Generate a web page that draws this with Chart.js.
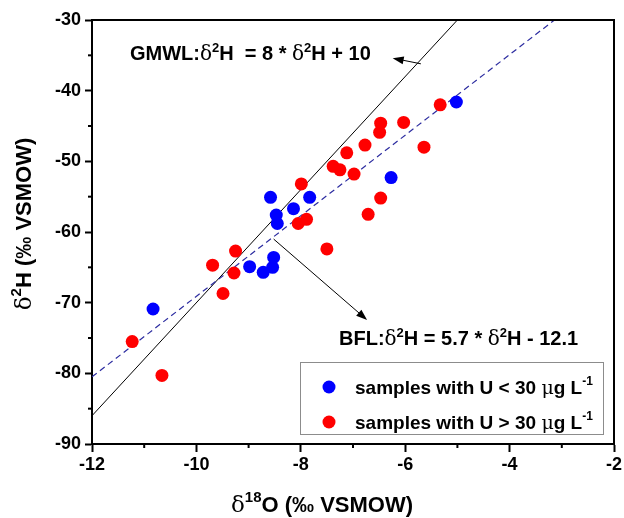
<!DOCTYPE html>
<html>
<head>
<meta charset="utf-8">
<script src="https://cdn.jsdelivr.net/npm/chart.js@4"></script>
<style>
  html, body { margin: 0; padding: 0; background: #fff; }
  #wrap { width: 624px; height: 518px; position: relative; }
</style>
</head>
<body>
<div id="wrap"><canvas id="chart"></canvas></div>
<script>
// samples with U < 30 ug/L
const blueX = [-8.58, -8.47, -8.45, -8.14, -7.83, -8.52, -8.54, -8.72, -8.98, -10.83, -5.02, -6.27];
const blueY = [-55.1, -57.6, -58.8, -56.7, -55.1, -63.6, -65.0, -65.7, -64.9, -70.9, -41.6, -52.3];
// samples with U > 30 ug/L
const redX = [-7.99, -8.05, -7.89, -9.25, -7.50, -7.38, -7.25, -7.12, -6.98, -6.77, -6.71, -5.33,
              -6.47, -6.49, -6.03, -5.64, -6.47, -9.69, -9.28, -9.49, -11.23, -10.66];
const redY = [-53.2, -58.8, -58.2, -62.7, -62.4, -50.7, -51.2, -48.8, -51.8, -47.7, -57.5, -42.0,
              -44.6, -45.9, -44.5, -48.0, -55.2, -64.7, -65.8, -68.7, -75.5, -80.3];
// GMWL and best fit line end points
const gmwlX = [-12, -5];
const gmwlY = [-86, -30];
const bflX = [-12, -3.14];
const bflY = [-80.5, -30];

const xTicks = [-12, -10, -8, -6, -4, -2];
const yTicks = [-90, -80, -70, -60, -50, -40, -30];

const SANS = '"Liberation Sans", Arial, sans-serif';
const SERIF = '"DejaVu Serif", "Liberation Serif", serif';

const pts = (xs, ys) => xs.map((x, i) => ({ x, y: ys[i] }));

function richWidth(ctx, parts) {
  let w = 0;
  parts.forEach(p => { ctx.font = p.f; w += ctx.measureText(p.t).width; });
  return w;
}
function drawRich(ctx, parts, x, y, center) {
  let cx = center ? x - richWidth(ctx, parts) / 2 : x;
  ctx.textAlign = 'left';
  ctx.textBaseline = 'alphabetic';
  parts.forEach(p => {
    ctx.font = p.f;
    ctx.fillText(p.t, cx, y + (p.dy || 0));
    cx += ctx.measureText(p.t).width;
  });
}
function arrow(ctx, x1, y1, x2, y2) {
  const ang = Math.atan2(y2 - y1, x2 - x1);
  ctx.beginPath();
  ctx.moveTo(x1, y1);
  ctx.lineTo(x2 - 6 * Math.cos(ang), y2 - 6 * Math.sin(ang));
  ctx.stroke();
  ctx.beginPath();
  ctx.moveTo(x2, y2);
  ctx.lineTo(x2 - 11 * Math.cos(ang) + 4 * Math.sin(ang), y2 - 11 * Math.sin(ang) - 4 * Math.cos(ang));
  ctx.lineTo(x2 - 11 * Math.cos(ang) - 4 * Math.sin(ang), y2 - 11 * Math.sin(ang) + 4 * Math.cos(ang));
  ctx.closePath();
  ctx.fill();
}

const big = 'bold 20px ' + SANS;
const sup = 'bold 13px ' + SANS;
const dlt = '20px ' + SERIF;
const lgBig = 'bold 19px ' + SANS;
const lgSup = 'bold 12px ' + SANS;
const lgDlt = '19px ' + SERIF;

const decorations = {
  id: 'decorations',
  afterDraw(chart) {
    const { ctx, chartArea: a, scales: { x, y } } = chart;
    ctx.save();
    ctx.strokeStyle = '#000';
    ctx.fillStyle = '#000';

    // frame top / right
    ctx.lineWidth = 2;
    ctx.beginPath();
    ctx.moveTo(a.left, a.top); ctx.lineTo(a.right, a.top); ctx.lineTo(a.right, a.bottom);
    ctx.stroke();

    // minor ticks
    x.ticks.filter(t => !xTicks.includes(t.value)).forEach(t => {
      const px = x.getPixelForValue(t.value);
      ctx.beginPath(); ctx.moveTo(px, a.bottom); ctx.lineTo(px, a.bottom + 4); ctx.stroke();
    });
    y.ticks.filter(t => !yTicks.includes(t.value)).forEach(t => {
      const py = y.getPixelForValue(t.value);
      ctx.beginPath(); ctx.moveTo(a.left, py); ctx.lineTo(a.left - 4, py); ctx.stroke();
    });

    // arrows
    ctx.lineWidth = 1;
    arrow(ctx, x.getPixelForValue(-5.70), y.getPixelForValue(-36.2),
               x.getPixelForValue(-6.24), y.getPixelForValue(-35.4));
    arrow(ctx, x.getPixelForValue(-8.52), y.getPixelForValue(-61.0),
               x.getPixelForValue(-6.73), y.getPixelForValue(-72.45));

    // line labels
    drawRich(ctx, [
      { t: 'GMWL:', f: big }, { t: 'δ', f: dlt }, { t: '2', f: sup, dy: -8 },
      { t: 'H  = 8 * ', f: big }, { t: 'δ', f: dlt }, { t: '2', f: sup, dy: -8 },
      { t: 'H + 10', f: big }
    ], 130, 60, false);
    drawRich(ctx, [
      { t: 'BFL:', f: big }, { t: 'δ', f: dlt }, { t: '2', f: sup, dy: -8 },
      { t: 'H = 5.7 * ', f: big }, { t: 'δ', f: dlt }, { t: '2', f: sup, dy: -8 },
      { t: 'H - 12.1', f: big }
    ], 339, 345, false);

    // legend
    ctx.lineWidth = 1;
    ctx.strokeStyle = '#8c8c8c';
    ctx.fillStyle = '#fff';
    ctx.fillRect(300.5, 362.5, 303, 72);
    ctx.strokeRect(300.5, 362.5, 303, 72);
    [['#0000ff', '<', 387], ['#ff0000', '>', 422]].forEach(([c, s, ly]) => {
      ctx.fillStyle = c;
      ctx.beginPath(); ctx.arc(329, ly, 6.5, 0, Math.PI * 2); ctx.fill();
      ctx.fillStyle = '#000';
      drawRich(ctx, [
        { t: 'samples with U ' + s + ' 30 ', f: lgBig }, { t: 'μ', f: lgDlt },
        { t: 'g L', f: lgBig }, { t: '-1', f: lgSup, dy: -9 }
      ], 355, ly + 7, false);
    });

    // axis titles
    const tb = 'bold 22px ' + SANS, ts = 'bold 15px ' + SANS, td = '23px ' + SERIF;
    ctx.fillStyle = '#000';
    drawRich(ctx, [
      { t: 'δ', f: td }, { t: '18', f: ts, dy: -10 }, { t: 'O (‰ VSMOW)', f: tb }
    ], 322, 512, true);
    ctx.translate(31, 224);
    ctx.rotate(-Math.PI / 2);
    drawRich(ctx, [
      { t: 'δ', f: td }, { t: '2', f: ts, dy: -10 }, { t: 'H (‰ VSMOW)', f: tb }
    ], 0, 0, true);
    ctx.restore();
  }
};

const tickFont = { family: SANS, weight: 'bold', size: 18 };

new Chart(document.getElementById('chart'), {
  type: 'scatter',
  data: {
    datasets: [
      { label: 'samples with U < 30 μg L-1', data: pts(blueX, blueY),
        backgroundColor: '#0000ff', borderWidth: 0, pointRadius: 6.5 },
      { label: 'samples with U > 30 μg L-1', data: pts(redX, redY),
        backgroundColor: '#ff0000', borderWidth: 0, pointRadius: 6.5 },
      { label: 'BFL', data: pts(bflX, bflY), showLine: true, pointRadius: 0,
        borderColor: '#2c2ca0', borderWidth: 1.2, borderDash: [6, 4] },
      { label: 'GMWL', data: pts(gmwlX, gmwlY), showLine: true, pointRadius: 0,
        borderColor: '#000', borderWidth: 1 },
    ]
  },
  options: {
    responsive: true, maintainAspectRatio: false, animation: false,
    layout: { padding: { top: 20, right: 10, left: 0, bottom: 0 } },
    plugins: { legend: { display: false }, tooltip: { enabled: false } },
    scales: {
      x: {
        type: 'linear', min: -12, max: -2,
        ticks: { stepSize: 1, autoSkip: false, maxRotation: 0, padding: 2, color: '#000', font: tickFont,
                 callback: v => xTicks.includes(v) ? String(v) : '' },
        grid: { drawOnChartArea: false, tickLength: 8, tickWidth: 2,
                tickColor: c => c.tick && xTicks.includes(c.tick.value) ? '#000' : 'rgba(0,0,0,0)' },
        border: { color: '#000', width: 2 },
        afterFit: s => { s.height = 74; s.paddingLeft = 0; s.paddingRight = 0; }
      },
      y: {
        type: 'linear', min: -90, max: -30,
        ticks: { stepSize: 5, autoSkip: false, padding: 4, color: '#000', font: tickFont,
                 callback: v => yTicks.includes(v) ? String(v) : '' },
        grid: { drawOnChartArea: false, tickLength: 7, tickWidth: 2,
                tickColor: c => c.tick && yTicks.includes(c.tick.value) ? '#000' : 'rgba(0,0,0,0)' },
        border: { color: '#000', width: 2 },
        afterFit: s => { s.width = 92; s.paddingTop = 0; s.paddingBottom = 0; }
      }
    }
  },
  plugins: [decorations]
});
</script>
</body>
</html>
